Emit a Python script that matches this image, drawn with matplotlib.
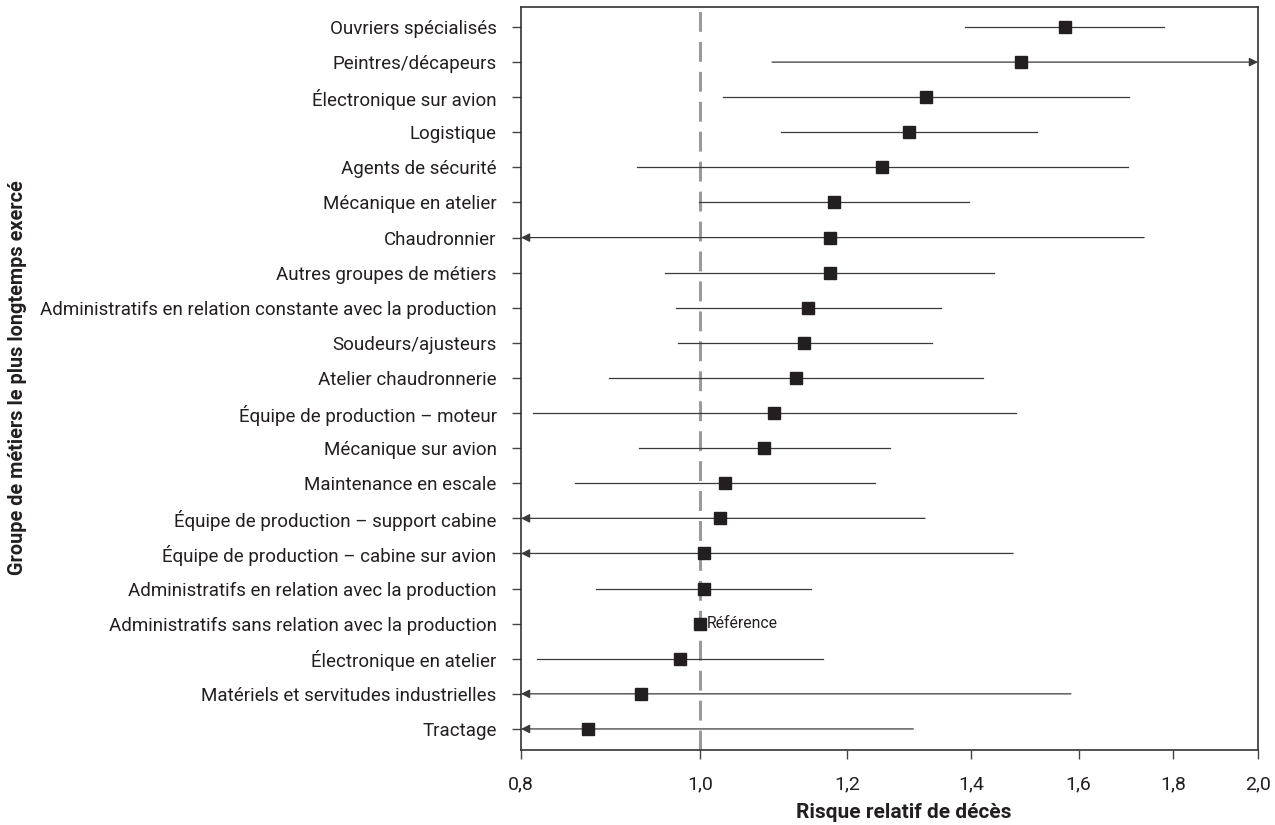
import numpy as np
import matplotlib
matplotlib.use("Agg")
import matplotlib.pyplot as plt

# job groups, top to bottom
groups = [
    "Ouvriers spécialisés",
    "Peintres/décapeurs",
    "Électronique sur avion",
    "Logistique",
    "Agents de sécurité",
    "Mécanique en atelier",
    "Chaudronnier",
    "Autres groupes de métiers",
    "Administratifs en relation constante avec la production",
    "Soudeurs/ajusteurs",
    "Atelier chaudronnerie",
    "Équipe de production – moteur",
    "Mécanique sur avion",
    "Maintenance en escale",
    "Équipe de production – support cabine",
    "Équipe de production – cabine sur avion",
    "Administratifs en relation avec la production",
    "Administratifs sans relation avec la production",
    "Électronique en atelier",
    "Matériels et servitudes industrielles",
    "Tractage",
]

# relative risk and 95% CI (None = goes past the axis -> arrow)
rr = [1.573, 1.489, 1.324, 1.296, 1.253, 1.181, 1.175, 1.175, 1.143, 1.138, 1.126,
      1.096, 1.082, 1.031, 1.025, 1.005, 1.004, 1.0, 0.975, 0.929, 0.870]
ci_low = [1.390, 1.093, 1.029, 1.105, 0.924, 0.998, None, 0.957, 0.970, 0.973, 0.893,
          0.812, 0.926, 0.856, None, None, 0.878, None, 0.816, None, None]
ci_high = [1.779, None, 1.704, 1.520, 1.702, 1.397, 1.736, 1.441, 1.349, 1.333, 1.420,
           1.481, 1.266, 1.243, 1.322, 1.475, 1.147, None, 1.165, 1.585, 1.303]
ref_idx = 17

xticks = [0.8, 1.0, 1.2, 1.4, 1.6, 1.8, 2.0]
xlim = (0.8, 2.0)

plt.rcParams['font.family'] = ['Roboto', 'DejaVu Sans']

txt_col = '#231f20'
line_col = '#3a3a3a'

fig = plt.figure(figsize=(12.75, 8.25), dpi=100)
ax = fig.add_axes([521 / 1275, 1 - 750 / 825, 737 / 1275, 743 / 825])
ax.set_xscale('log')
ax.set_xlim(*xlim)

y = np.arange(len(groups))

# CI lines, arrows where the interval runs off the axis
arrow_kw = dict(arrowstyle='-|>', color=line_col, lw=0.9, mutation_scale=13, shrinkA=0, shrinkB=0)
for i in range(len(groups)):
    if i == ref_idx:
        continue
    lo = ci_low[i]
    hi = ci_high[i]
    if lo is not None and hi is not None:
        ax.plot([lo, hi], [i, i], color=line_col, lw=0.9, zorder=2)
    elif lo is None:
        ax.annotate('', xy=(xlim[0], i), xytext=(hi, i), arrowprops=arrow_kw,
                    zorder=2, annotation_clip=False)
    else:
        ax.annotate('', xy=(xlim[1], i), xytext=(lo, i), arrowprops=arrow_kw,
                    zorder=2, annotation_clip=False)

ax.axvline(1.0, color='#9a9a9a', lw=2.2, dashes=(6.5, 3.3), zorder=1)

ax.plot(rr, y, ls='none', marker='s', ms=8.6, color=txt_col, zorder=3)
ax.text(rr[ref_idx] * 1.008, ref_idx, "Référence", va='center', ha='left',
        fontsize=11.3, color=txt_col)

ax.set_ylim(len(groups) - 1 + 0.6, -0.57)
ax.set_yticks(y)
ax.set_yticklabels(groups, fontsize=13.5, color=txt_col)

ax.set_xticks(xticks)
ax.set_xticklabels([f"{v:.1f}".replace('.', ',') for v in xticks], fontsize=14, color=txt_col)
ax.minorticks_off()

ax.tick_params(axis='both', direction='out', length=6.5, width=1, color='#444444')
ax.tick_params(axis='y', pad=11)
ax.tick_params(axis='x', pad=12)

for s in ax.spines.values():
    s.set_color('#333333')
    s.set_linewidth(1.2)

ax.set_xlabel("Risque relatif de décès", fontsize=15, fontweight='bold', color=txt_col)
ax.xaxis.set_label_coords((904 - 521) / 737, -(812 - 750) / 743, transform=ax.transAxes)
ax.xaxis.label.set_va('center')
fig.text(18 / 1275, 1 - 378 / 825, "Groupe de métiers le plus longtemps exercé", rotation=90,
         ha='center', va='center', fontsize=14.3, fontweight='bold', color=txt_col)

fig.savefig("out.png", dpi=100)
